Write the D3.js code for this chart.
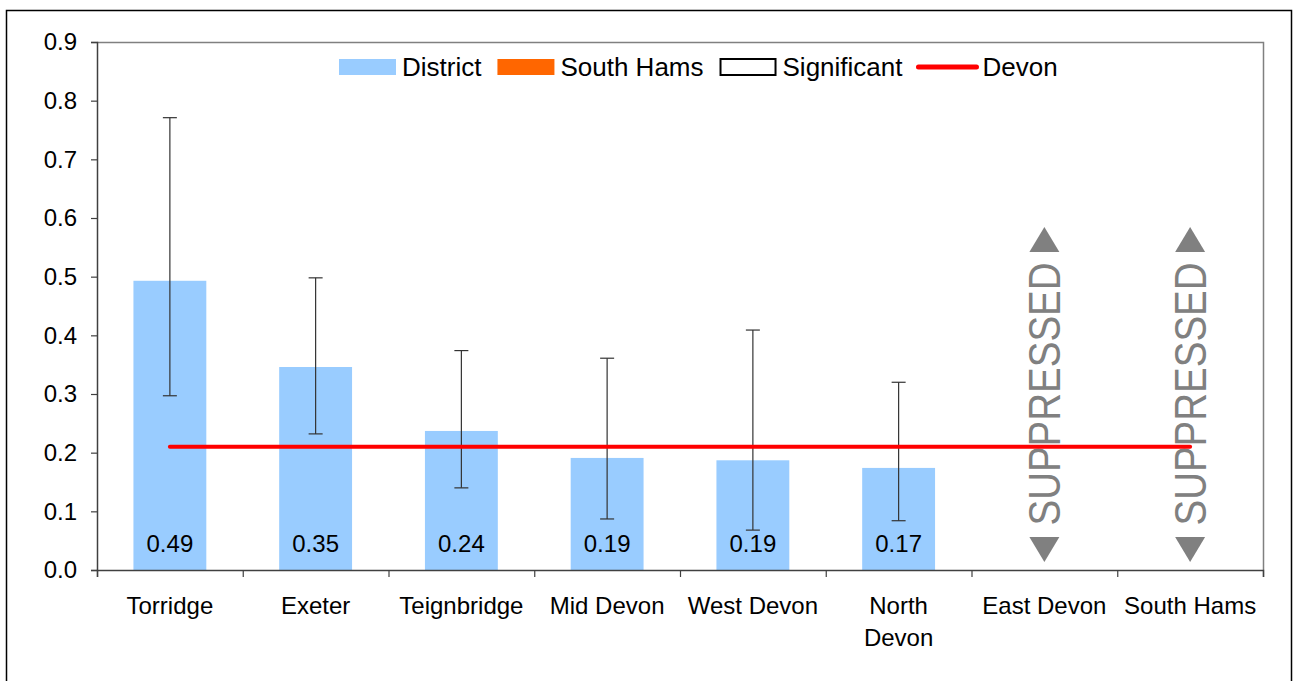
<!DOCTYPE html>
<html>
<head>
<meta charset="utf-8">
<script src="https://cdn.jsdelivr.net/npm/d3@7"></script>
<style>
  body { margin: 0; background: #fff; }
  svg { display: block; font-family: "Liberation Sans", Arial, sans-serif; }
</style>
</head>
<body>
<div id="container"></div>
<script>
/* DATA */
const districts = ["Torridge", "Exeter", "Teignbridge", "Mid Devon", "West Devon", "North Devon", "East Devon", "South Hams"];
const values    = [0.493, 0.346, 0.237, 0.191, 0.187, 0.174, null, null];
const lowerCI   = [0.297, 0.232, 0.140, 0.087, 0.068, 0.084, null, null];
const upperCI   = [0.771, 0.498, 0.374, 0.361, 0.409, 0.320, null, null];
const valueLabels = ["0.49", "0.35", "0.24", "0.19", "0.19", "0.17", "", ""];
const suppressed = ["East Devon", "South Hams"];
const devonValue = 0.21;
const yTicks = [0, 0.1, 0.2, 0.3, 0.4, 0.5, 0.6, 0.7, 0.8, 0.9];
const legendItems = ["District", "South Hams", "Significant", "Devon"];

/* CONSTANTS */
const width = 1294, height = 681;
const margin = { top: 42, left: 97, right: 31, bottom: 111 };
const barColor = "#99CCFF";
const highlightColor = "#FF6600";

const svg = d3.select("#container")
  .append("svg")
  .attr("width", width)
  .attr("height", height);

// outer frame
svg.append("rect")
  .attr("x", 6.5).attr("y", 10.5)
  .attr("width", 1285).attr("height", 700)
  .attr("fill", "none")
  .attr("stroke", "#000")
  .attr("stroke-width", 1.5);

/* SCALES */
const xScale = d3.scaleBand()
  .domain(districts)
  .range([margin.left, width - margin.right])
  .paddingInner(0.5)
  .paddingOuter(0.25);

// for the category boundary ticks
const xEdge = d3.scaleLinear()
  .domain([0, districts.length])
  .range([margin.left, width - margin.right]);

const yScale = d3.scaleLinear()
  .domain([0, 0.9])
  .range([height - margin.bottom, margin.top]);

const rows = districts.map((d, i) => ({
  name: d, value: values[i], lo: lowerCI[i], hi: upperCI[i], label: valueLabels[i]
}));
const shown = rows.filter(d => d.value !== null);

// plot frame (top + right in grey)
svg.append("path")
  .attr("d", `M${margin.left},${yScale(0.9) + 0.5}H${xEdge(districts.length) + 0.5}V${yScale(0)}`)
  .attr("fill", "none")
  .attr("stroke", "#808080")
  .attr("stroke-width", 1.5);

/* BARS */
svg.selectAll("rect.bar")
  .data(shown)
  .join("rect")
  .attr("class", "bar")
  .attr("x", d => xScale(d.name))
  .attr("width", xScale.bandwidth())
  .attr("y", d => yScale(d.value))
  .attr("height", d => yScale(0) - yScale(d.value))
  .attr("fill", d => d.name === "South Hams" ? highlightColor : barColor);

// value labels at the foot of each bar
svg.selectAll("text.val")
  .data(shown)
  .join("text")
  .attr("class", "val")
  .attr("x", d => xScale(d.name) + xScale.bandwidth() / 2)
  .attr("y", yScale(0) - 18)
  .attr("text-anchor", "middle")
  .style("font-size", "24px")
  .text(d => d.label);

/* ERROR BARS */
const err = svg.selectAll("g.err")
  .data(shown)
  .join("g")
  .attr("class", "err")
  .attr("stroke", "#333")
  .attr("stroke-width", 1.2);

err.append("line")
  .attr("x1", d => xScale(d.name) + xScale.bandwidth() / 2)
  .attr("x2", d => xScale(d.name) + xScale.bandwidth() / 2)
  .attr("y1", d => yScale(d.lo))
  .attr("y2", d => yScale(d.hi));

["lo", "hi"].forEach(k => {
  err.append("line")
    .attr("x1", d => xScale(d.name) + xScale.bandwidth() / 2 - 7)
    .attr("x2", d => xScale(d.name) + xScale.bandwidth() / 2 + 7)
    .attr("y1", d => yScale(d[k]))
    .attr("y2", d => yScale(d[k]));
});

/* SUPPRESSED MARKERS */
const sup = svg.selectAll("g.sup")
  .data(suppressed)
  .join("g")
  .attr("class", "sup")
  .attr("transform", d => `translate(${xScale(d) + xScale.bandwidth() / 2},${yScale(0.3)})`)
  .attr("fill", "#808080");

sup.append("text")
  .attr("transform", "rotate(-90)")
  .attr("x", 0)
  .attr("y", 16)
  .attr("text-anchor", "middle")
  .attr("textLength", 263)
  .attr("lengthAdjust", "spacingAndGlyphs")
  .style("font-size", "45px")
  .text("SUPPRESSED");

sup.append("path")   // up triangle
  .attr("d", "M-15,-142L0,-167L15,-142Z");
sup.append("path")   // down triangle
  .attr("d", "M-15,143L0,168L15,143Z");

/* DEVON LINE */
svg.append("line")
  .attr("x1", xScale(districts[0]) + xScale.bandwidth() / 2)
  .attr("x2", xScale(districts[districts.length - 1]) + xScale.bandwidth() / 2)
  .attr("y1", yScale(devonValue))
  .attr("y2", yScale(devonValue))
  .attr("stroke", "#FF0000")
  .attr("stroke-width", 4)
  .attr("stroke-linecap", "round");

/* AXES */
const yAxis = svg.append("g")
  .attr("transform", `translate(${margin.left},0)`)
  .call(d3.axisLeft(yScale).tickValues(yTicks).tickFormat(d3.format(".1f")).tickSize(6).tickPadding(14));

const xAxis = svg.append("g")
  .attr("transform", `translate(0,${yScale(0)})`)
  .call(d3.axisBottom(xEdge).ticks(districts.length).tickFormat("").tickSize(7).tickSizeOuter(7));

[yAxis, xAxis].forEach(g => {
  g.selectAll(".domain").attr("stroke", "#404040").attr("stroke-width", 1.5);
  g.selectAll(".tick line").attr("stroke", "#404040").attr("stroke-width", 1.2);
});
yAxis.selectAll("text")
  .style("font-size", "24px")
  .style("font-family", "Liberation Sans, Arial, sans-serif")
  .attr("fill", "#000");

// category labels, wrapped where needed
svg.selectAll("text.cat")
  .data(districts)
  .join("text")
  .attr("class", "cat")
  .attr("x", d => xScale(d) + xScale.bandwidth() / 2)
  .attr("y", 614)
  .attr("text-anchor", "middle")
  .style("font-size", "24px")
  .each(function(d) {
    const parts = d === "North Devon" ? ["North", "Devon"] : [d];
    d3.select(this).selectAll("tspan")
      .data(parts)
      .join("tspan")
      .attr("x", xScale(d) + xScale.bandwidth() / 2)
      .attr("dy", (_, i) => i === 0 ? 0 : 32)
      .text(p => p);
  });

/* LEGEND */
const legend = svg.append("g").attr("transform", "translate(339,67)");
let lx = 0;
legendItems.forEach((name, i) => {
  const g = legend.append("g").attr("transform", `translate(${lx},0)`);
  if (name === "Devon") {
    g.append("line")
      .attr("x1", 0).attr("x2", 58)
      .attr("stroke", "#FF0000")
      .attr("stroke-width", 5)
      .attr("stroke-linecap", "round");
  } else {
    g.append("rect")
      .attr("x", name === "Significant" ? 1 : 0)
      .attr("y", -8)
      .attr("width", name === "Significant" ? 55 : 57)
      .attr("height", 16)
      .attr("fill", name === "District" ? barColor : name === "South Hams" ? highlightColor : "#fff")
      .attr("stroke", name === "Significant" ? "#000" : "none")
      .attr("stroke-width", 2);
  }
  const t = g.append("text")
    .attr("x", name === "Devon" ? 64 : 63)
    .attr("y", 9)
    .style("font-size", "26px")
    .text(name);
  lx += 63 + t.node().getComputedTextLength() + 16;
});
</script>
</body>
</html>
